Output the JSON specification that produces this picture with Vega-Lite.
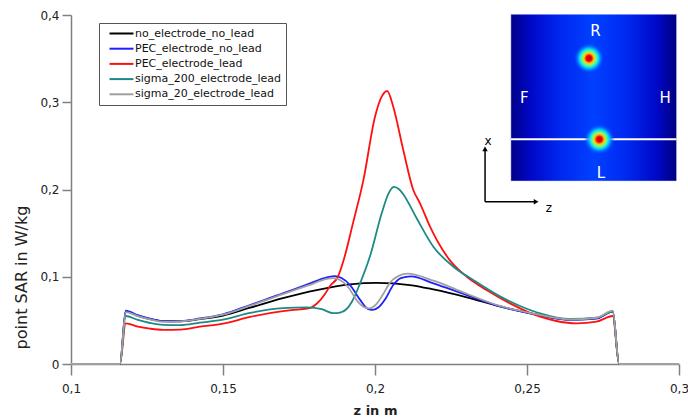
{
  "$schema": "https://vega.github.io/schema/vega-lite/v6.json",
  "width": 608,
  "height": 349,
  "autosize": {"type": "none"},
  "padding": {"left": 71, "top": 15, "right": 9, "bottom": 56},
  "config": {
    "view": {"stroke": null},
    "font": "DejaVu Sans",
    "axis": {
      "grid": false,
      "domainColor": "#808080",
      "domainWidth": 1.5,
      "tickColor": "#808080",
      "tickWidth": 1.5,
      "labelFont": "DejaVu Sans",
      "labelFontSize": 12,
      "labelColor": "#222222",
      "titleFont": "DejaVu Sans",
      "titleColor": "#222222"
    }
  },
  "datasets": {
    "curves": [
      {"series": "no_electrode_no_lead", "z": 0.1, "sar": 0},
      {"series": "no_electrode_no_lead", "z": 0.1161, "sar": 0},
      {"series": "no_electrode_no_lead", "z": 0.118, "sar": 0.06},
      {"series": "no_electrode_no_lead", "z": 0.122, "sar": 0.0552},
      {"series": "no_electrode_no_lead", "z": 0.126, "sar": 0.0515},
      {"series": "no_electrode_no_lead", "z": 0.1303, "sar": 0.0492},
      {"series": "no_electrode_no_lead", "z": 0.136, "sar": 0.049},
      {"series": "no_electrode_no_lead", "z": 0.1424, "sar": 0.0515},
      {"series": "no_electrode_no_lead", "z": 0.15, "sar": 0.0555},
      {"series": "no_electrode_no_lead", "z": 0.1589, "sar": 0.0645},
      {"series": "no_electrode_no_lead", "z": 0.1697, "sar": 0.0755},
      {"series": "no_electrode_no_lead", "z": 0.1808, "sar": 0.0848},
      {"series": "no_electrode_no_lead", "z": 0.1918, "sar": 0.0913},
      {"series": "no_electrode_no_lead", "z": 0.2006, "sar": 0.093},
      {"series": "no_electrode_no_lead", "z": 0.2115, "sar": 0.0905},
      {"series": "no_electrode_no_lead", "z": 0.2192, "sar": 0.0855},
      {"series": "no_electrode_no_lead", "z": 0.2302, "sar": 0.0765},
      {"series": "no_electrode_no_lead", "z": 0.2411, "sar": 0.066},
      {"series": "no_electrode_no_lead", "z": 0.2521, "sar": 0.0575},
      {"series": "no_electrode_no_lead", "z": 0.2641, "sar": 0.0508},
      {"series": "no_electrode_no_lead", "z": 0.2729, "sar": 0.0525},
      {"series": "no_electrode_no_lead", "z": 0.2782, "sar": 0.06},
      {"series": "no_electrode_no_lead", "z": 0.2803, "sar": 0},
      {"series": "no_electrode_no_lead", "z": 0.3, "sar": 0},

      {"series": "PEC_electrode_no_lead", "z": 0.1, "sar": 0},
      {"series": "PEC_electrode_no_lead", "z": 0.1161, "sar": 0},
      {"series": "PEC_electrode_no_lead", "z": 0.118, "sar": 0.0611},
      {"series": "PEC_electrode_no_lead", "z": 0.122, "sar": 0.056},
      {"series": "PEC_electrode_no_lead", "z": 0.126, "sar": 0.052},
      {"series": "PEC_electrode_no_lead", "z": 0.1303, "sar": 0.049},
      {"series": "PEC_electrode_no_lead", "z": 0.136, "sar": 0.0492},
      {"series": "PEC_electrode_no_lead", "z": 0.1424, "sar": 0.0522},
      {"series": "PEC_electrode_no_lead", "z": 0.15, "sar": 0.057},
      {"series": "PEC_electrode_no_lead", "z": 0.1589, "sar": 0.0675},
      {"series": "PEC_electrode_no_lead", "z": 0.1697, "sar": 0.081},
      {"series": "PEC_electrode_no_lead", "z": 0.178, "sar": 0.0915},
      {"series": "PEC_electrode_no_lead", "z": 0.1845, "sar": 0.0995},
      {"series": "PEC_electrode_no_lead", "z": 0.1868, "sar": 0.1008},
      {"series": "PEC_electrode_no_lead", "z": 0.189, "sar": 0.0985},
      {"series": "PEC_electrode_no_lead", "z": 0.1918, "sar": 0.0905},
      {"series": "PEC_electrode_no_lead", "z": 0.1951, "sar": 0.0735},
      {"series": "PEC_electrode_no_lead", "z": 0.1975, "sar": 0.0635},
      {"series": "PEC_electrode_no_lead", "z": 0.1992, "sar": 0.062},
      {"series": "PEC_electrode_no_lead", "z": 0.2012, "sar": 0.065},
      {"series": "PEC_electrode_no_lead", "z": 0.2035, "sar": 0.075},
      {"series": "PEC_electrode_no_lead", "z": 0.206, "sar": 0.0905},
      {"series": "PEC_electrode_no_lead", "z": 0.2085, "sar": 0.0985},
      {"series": "PEC_electrode_no_lead", "z": 0.2118, "sar": 0.1005},
      {"series": "PEC_electrode_no_lead", "z": 0.2192, "sar": 0.0925},
      {"series": "PEC_electrode_no_lead", "z": 0.2302, "sar": 0.079},
      {"series": "PEC_electrode_no_lead", "z": 0.2411, "sar": 0.066},
      {"series": "PEC_electrode_no_lead", "z": 0.2521, "sar": 0.0573},
      {"series": "PEC_electrode_no_lead", "z": 0.2641, "sar": 0.0505},
      {"series": "PEC_electrode_no_lead", "z": 0.2729, "sar": 0.052},
      {"series": "PEC_electrode_no_lead", "z": 0.2782, "sar": 0.0605},
      {"series": "PEC_electrode_no_lead", "z": 0.2803, "sar": 0},
      {"series": "PEC_electrode_no_lead", "z": 0.3, "sar": 0},

      {"series": "PEC_electrode_lead", "z": 0.1, "sar": 0},
      {"series": "PEC_electrode_lead", "z": 0.1161, "sar": 0},
      {"series": "PEC_electrode_lead", "z": 0.118, "sar": 0.0466},
      {"series": "PEC_electrode_lead", "z": 0.122, "sar": 0.0428},
      {"series": "PEC_electrode_lead", "z": 0.126, "sar": 0.0405},
      {"series": "PEC_electrode_lead", "z": 0.1303, "sar": 0.0392},
      {"series": "PEC_electrode_lead", "z": 0.136, "sar": 0.0395},
      {"series": "PEC_electrode_lead", "z": 0.1424, "sar": 0.0428},
      {"series": "PEC_electrode_lead", "z": 0.15, "sar": 0.0462},
      {"series": "PEC_electrode_lead", "z": 0.1589, "sar": 0.054},
      {"series": "PEC_electrode_lead", "z": 0.1697, "sar": 0.0605},
      {"series": "PEC_electrode_lead", "z": 0.1753, "sar": 0.0627},
      {"series": "PEC_electrode_lead", "z": 0.1785, "sar": 0.064},
      {"series": "PEC_electrode_lead", "z": 0.1808, "sar": 0.069},
      {"series": "PEC_electrode_lead", "z": 0.1835, "sar": 0.08},
      {"series": "PEC_electrode_lead", "z": 0.1852, "sar": 0.0895},
      {"series": "PEC_electrode_lead", "z": 0.1878, "sar": 0.1},
      {"series": "PEC_electrode_lead", "z": 0.1896, "sar": 0.118},
      {"series": "PEC_electrode_lead", "z": 0.1928, "sar": 0.162},
      {"series": "PEC_electrode_lead", "z": 0.1962, "sar": 0.211},
      {"series": "PEC_electrode_lead", "z": 0.2, "sar": 0.2834},
      {"series": "PEC_electrode_lead", "z": 0.2022, "sar": 0.3064},
      {"series": "PEC_electrode_lead", "z": 0.204, "sar": 0.3129},
      {"series": "PEC_electrode_lead", "z": 0.206, "sar": 0.2949},
      {"series": "PEC_electrode_lead", "z": 0.2093, "sar": 0.2453},
      {"series": "PEC_electrode_lead", "z": 0.2126, "sar": 0.1994},
      {"series": "PEC_electrode_lead", "z": 0.2148, "sar": 0.1842},
      {"series": "PEC_electrode_lead", "z": 0.2181, "sar": 0.1574},
      {"series": "PEC_electrode_lead", "z": 0.2247, "sar": 0.1185},
      {"series": "PEC_electrode_lead", "z": 0.2302, "sar": 0.1},
      {"series": "PEC_electrode_lead", "z": 0.2367, "sar": 0.0848},
      {"series": "PEC_electrode_lead", "z": 0.2444, "sar": 0.0695},
      {"series": "PEC_electrode_lead", "z": 0.2543, "sar": 0.0542},
      {"series": "PEC_electrode_lead", "z": 0.26, "sar": 0.049},
      {"series": "PEC_electrode_lead", "z": 0.2663, "sar": 0.0466},
      {"series": "PEC_electrode_lead", "z": 0.2729, "sar": 0.0485},
      {"series": "PEC_electrode_lead", "z": 0.2782, "sar": 0.055},
      {"series": "PEC_electrode_lead", "z": 0.2803, "sar": 0},
      {"series": "PEC_electrode_lead", "z": 0.3, "sar": 0},

      {"series": "sigma_200_electrode_lead", "z": 0.1, "sar": 0},
      {"series": "sigma_200_electrode_lead", "z": 0.1161, "sar": 0},
      {"series": "sigma_200_electrode_lead", "z": 0.118, "sar": 0.055},
      {"series": "sigma_200_electrode_lead", "z": 0.122, "sar": 0.0505},
      {"series": "sigma_200_electrode_lead", "z": 0.126, "sar": 0.047},
      {"series": "sigma_200_electrode_lead", "z": 0.1303, "sar": 0.0448},
      {"series": "sigma_200_electrode_lead", "z": 0.136, "sar": 0.0446},
      {"series": "sigma_200_electrode_lead", "z": 0.1424, "sar": 0.0474},
      {"series": "sigma_200_electrode_lead", "z": 0.15, "sar": 0.0508},
      {"series": "sigma_200_electrode_lead", "z": 0.1589, "sar": 0.0585},
      {"series": "sigma_200_electrode_lead", "z": 0.1697, "sar": 0.064},
      {"series": "sigma_200_electrode_lead", "z": 0.1776, "sar": 0.0648},
      {"series": "sigma_200_electrode_lead", "z": 0.1825, "sar": 0.0628},
      {"series": "sigma_200_electrode_lead", "z": 0.1863, "sar": 0.0582},
      {"series": "sigma_200_electrode_lead", "z": 0.1885, "sar": 0.059},
      {"series": "sigma_200_electrode_lead", "z": 0.1905, "sar": 0.0625},
      {"series": "sigma_200_electrode_lead", "z": 0.1925, "sar": 0.072},
      {"series": "sigma_200_electrode_lead", "z": 0.1951, "sar": 0.0925},
      {"series": "sigma_200_electrode_lead", "z": 0.1984, "sar": 0.124},
      {"series": "sigma_200_electrode_lead", "z": 0.2022, "sar": 0.1727},
      {"series": "sigma_200_electrode_lead", "z": 0.2044, "sar": 0.195},
      {"series": "sigma_200_electrode_lead", "z": 0.2062, "sar": 0.203},
      {"series": "sigma_200_electrode_lead", "z": 0.208, "sar": 0.2},
      {"series": "sigma_200_electrode_lead", "z": 0.2093, "sar": 0.1945},
      {"series": "sigma_200_electrode_lead", "z": 0.2137, "sar": 0.167},
      {"series": "sigma_200_electrode_lead", "z": 0.2192, "sar": 0.1344},
      {"series": "sigma_200_electrode_lead", "z": 0.2258, "sar": 0.1115},
      {"series": "sigma_200_electrode_lead", "z": 0.2323, "sar": 0.0963},
      {"series": "sigma_200_electrode_lead", "z": 0.2411, "sar": 0.0775},
      {"series": "sigma_200_electrode_lead", "z": 0.2477, "sar": 0.0665},
      {"series": "sigma_200_electrode_lead", "z": 0.2543, "sar": 0.058},
      {"series": "sigma_200_electrode_lead", "z": 0.2641, "sar": 0.0516},
      {"series": "sigma_200_electrode_lead", "z": 0.2729, "sar": 0.053},
      {"series": "sigma_200_electrode_lead", "z": 0.2782, "sar": 0.06},
      {"series": "sigma_200_electrode_lead", "z": 0.2803, "sar": 0},
      {"series": "sigma_200_electrode_lead", "z": 0.3, "sar": 0},

      {"series": "sigma_20_electrode_lead", "z": 0.1, "sar": 0},
      {"series": "sigma_20_electrode_lead", "z": 0.1161, "sar": 0},
      {"series": "sigma_20_electrode_lead", "z": 0.118, "sar": 0.0595},
      {"series": "sigma_20_electrode_lead", "z": 0.122, "sar": 0.0548},
      {"series": "sigma_20_electrode_lead", "z": 0.126, "sar": 0.0512},
      {"series": "sigma_20_electrode_lead", "z": 0.1303, "sar": 0.0485},
      {"series": "sigma_20_electrode_lead", "z": 0.136, "sar": 0.0487},
      {"series": "sigma_20_electrode_lead", "z": 0.1424, "sar": 0.0517},
      {"series": "sigma_20_electrode_lead", "z": 0.15, "sar": 0.0565},
      {"series": "sigma_20_electrode_lead", "z": 0.1589, "sar": 0.0668},
      {"series": "sigma_20_electrode_lead", "z": 0.1697, "sar": 0.08},
      {"series": "sigma_20_electrode_lead", "z": 0.178, "sar": 0.09},
      {"series": "sigma_20_electrode_lead", "z": 0.1842, "sar": 0.0975},
      {"series": "sigma_20_electrode_lead", "z": 0.1862, "sar": 0.0985},
      {"series": "sigma_20_electrode_lead", "z": 0.1885, "sar": 0.0962},
      {"series": "sigma_20_electrode_lead", "z": 0.1912, "sar": 0.088},
      {"series": "sigma_20_electrode_lead", "z": 0.1942, "sar": 0.072},
      {"series": "sigma_20_electrode_lead", "z": 0.1968, "sar": 0.0645},
      {"series": "sigma_20_electrode_lead", "z": 0.1982, "sar": 0.0638},
      {"series": "sigma_20_electrode_lead", "z": 0.2, "sar": 0.067},
      {"series": "sigma_20_electrode_lead", "z": 0.2025, "sar": 0.079},
      {"series": "sigma_20_electrode_lead", "z": 0.205, "sar": 0.0935},
      {"series": "sigma_20_electrode_lead", "z": 0.2078, "sar": 0.101},
      {"series": "sigma_20_electrode_lead", "z": 0.2108, "sar": 0.1035},
      {"series": "sigma_20_electrode_lead", "z": 0.2192, "sar": 0.0955},
      {"series": "sigma_20_electrode_lead", "z": 0.2302, "sar": 0.0805},
      {"series": "sigma_20_electrode_lead", "z": 0.2411, "sar": 0.0665},
      {"series": "sigma_20_electrode_lead", "z": 0.2521, "sar": 0.0578},
      {"series": "sigma_20_electrode_lead", "z": 0.2641, "sar": 0.051},
      {"series": "sigma_20_electrode_lead", "z": 0.2729, "sar": 0.053},
      {"series": "sigma_20_electrode_lead", "z": 0.2782, "sar": 0.0612},
      {"series": "sigma_20_electrode_lead", "z": 0.2803, "sar": 0},
      {"series": "sigma_20_electrode_lead", "z": 0.3, "sar": 0}
    ],
    "inset": [{"z": 0.2447, "z2": 0.2992, "sar": 0.2097, "sar2": 0.4008}],
    "cutline": [{"z": 0.2447, "z2": 0.2992, "sar": 0.2575}],
    "spots": [{"z": 0.2704, "sar": 0.3504}, {"z": 0.2738, "sar": 0.2575}],
    "insetLabels": [
      {"label": "R", "z": 0.2725, "sar": 0.3817},
      {"label": "F", "z": 0.2491, "sar": 0.3045},
      {"label": "H", "z": 0.2954, "sar": 0.3045},
      {"label": "L", "z": 0.2743, "sar": 0.2186}
    ],
    "arrows": [
      {"z": 0.2362, "z2": 0.2362, "sar": 0.186, "sar2": 0.2455},
      {"z": 0.2362, "z2": 0.2525, "sar": 0.186, "sar2": 0.186}
    ],
    "heads": [
      {"dir": "up", "z": 0.2362, "sar": 0.2465},
      {"dir": "right", "z": 0.2530, "sar": 0.186}
    ],
    "axisLetters": [
      {"label": "x", "z": 0.2372, "sar": 0.2555},
      {"label": "z", "z": 0.2572, "sar": 0.179}
    ]
  },
  "layer": [
    {
      "data": {"name": "curves"},
      "mark": {"type": "line", "interpolate": "monotone", "strokeWidth": 1.8},
      "encoding": {
        "x": {
          "field": "z", "type": "quantitative",
          "scale": {"domain": [0.1, 0.3], "nice": false, "zero": false},
          "axis": {
            "title": "z in m",
            "titleFontWeight": "bold",
            "titleFontSize": 13,
            "titleY": 46,
            "titleBaseline": "middle",
            "values": [0.1, 0.15, 0.2, 0.25, 0.3],
            "format": "~g",
            "labelExpr": "replace(datum.label, '.', ',')",
            "tickSize": 11,
            "labelPadding": 8,
            "labelFlush": false
          }
        },
        "y": {
          "field": "sar", "type": "quantitative",
          "scale": {"domain": [0, 0.4], "nice": false},
          "axis": {
            "title": "point SAR in W/kg",
            "titleFontWeight": "normal",
            "titleFontSize": 16,
            "titleX": -50,
            "titleY": 262,
            "titleAngle": 270,
            "titleAlign": "center",
            "titleBaseline": "middle",
            "values": [0, 0.1, 0.2, 0.3, 0.4],
            "format": "~g",
            "labelExpr": "replace(datum.label, '.', ',')",
            "tickSize": 9,
            "labelPadding": 3
          }
        },
        "color": {
          "field": "series", "type": "nominal",
          "scale": {
            "domain": ["no_electrode_no_lead", "PEC_electrode_no_lead", "PEC_electrode_lead", "sigma_200_electrode_lead", "sigma_20_electrode_lead"],
            "range": ["#000000", "#1f1fff", "#ff1010", "#1d8a84", "#a0a0a0"]
          },
          "legend": {
            "orient": "none",
            "legendX": 28,
            "legendY": 8,
            "title": null,
            "direction": "vertical",
            "strokeColor": "#555555",
            "fillColor": "#ffffff",
            "padding": 5,
            "symbolType": "M0,0H8",
            "symbolSize": 36,
            "symbolStrokeWidth": 2,
            "labelOffset": 20,
            "labelFont": "DejaVu Sans",
            "labelFontSize": 11,
            "labelColor": "#111111",
            "rowPadding": 3.2
          }
        }
      }
    },
    {
      "data": {"name": "inset"},
      "mark": {
        "type": "rect",
        "fill": {
          "gradient": "linear", "x1": 0, "y1": 0, "x2": 1, "y2": 0,
          "stops": [
            {"offset": 0, "color": "#000088"},
            {"offset": 0.12, "color": "#0008c8"},
            {"offset": 0.3, "color": "#0028f0"},
            {"offset": 0.5, "color": "#0040ff"},
            {"offset": 0.7, "color": "#0028f0"},
            {"offset": 0.88, "color": "#0008c8"},
            {"offset": 1, "color": "#000080"}
          ]
        },
        "stroke": "#d0d8ff",
        "strokeWidth": 0.5
      },
      "encoding": {
        "x": {"field": "z", "type": "quantitative"},
        "x2": {"field": "z2"},
        "y": {"field": "sar", "type": "quantitative"},
        "y2": {"field": "sar2"}
      }
    },
    {
      "data": {"name": "cutline"},
      "mark": {"type": "rule", "color": "#ffffff", "strokeWidth": 2},
      "encoding": {
        "x": {"field": "z", "type": "quantitative"},
        "x2": {"field": "z2"},
        "y": {"field": "sar", "type": "quantitative"}
      }
    },
    {
      "data": {"name": "spots"},
      "mark": {
        "type": "point", "shape": "circle", "filled": true, "size": 900, "strokeWidth": 0, "opacity": 1,
        "fill": {
          "gradient": "radial", "x1": 0.5, "y1": 0.5, "r1": 0, "x2": 0.5, "y2": 0.5, "r2": 0.5,
          "stops": [
            {"offset": 0, "color": "#a00000"},
            {"offset": 0.2, "color": "#ff0000"},
            {"offset": 0.32, "color": "#ffc800"},
            {"offset": 0.46, "color": "#80ff70"},
            {"offset": 0.64, "color": "#00d8ff"},
            {"offset": 0.85, "color": "rgba(0,110,255,0.6)"},
            {"offset": 1, "color": "rgba(0,72,255,0)"}
          ]
        }
      },
      "encoding": {
        "x": {"field": "z", "type": "quantitative"},
        "y": {"field": "sar", "type": "quantitative"}
      }
    },
    {
      "data": {"name": "insetLabels"},
      "mark": {"type": "text", "color": "#ffffff", "fontSize": 15, "font": "DejaVu Sans", "align": "center", "baseline": "middle"},
      "encoding": {
        "x": {"field": "z", "type": "quantitative"},
        "y": {"field": "sar", "type": "quantitative"},
        "text": {"field": "label"}
      }
    },
    {
      "data": {"name": "arrows"},
      "mark": {"type": "rule", "color": "#000000", "strokeWidth": 1.5},
      "encoding": {
        "x": {"field": "z", "type": "quantitative"},
        "x2": {"field": "z2"},
        "y": {"field": "sar", "type": "quantitative"},
        "y2": {"field": "sar2"}
      }
    },
    {
      "data": {"name": "heads"},
      "mark": {"type": "point", "filled": true, "color": "#000000", "size": 30, "opacity": 1},
      "encoding": {
        "x": {"field": "z", "type": "quantitative"},
        "y": {"field": "sar", "type": "quantitative"},
        "shape": {
          "field": "dir", "type": "nominal",
          "scale": {"domain": ["up", "right"], "range": ["triangle-up", "triangle-right"]},
          "legend": null
        }
      }
    },
    {
      "data": {"name": "axisLetters"},
      "mark": {"type": "text", "color": "#000000", "fontSize": 12, "font": "DejaVu Sans", "align": "center", "baseline": "middle"},
      "encoding": {
        "x": {"field": "z", "type": "quantitative"},
        "y": {"field": "sar", "type": "quantitative"},
        "text": {"field": "label"}
      }
    }
  ]
}
